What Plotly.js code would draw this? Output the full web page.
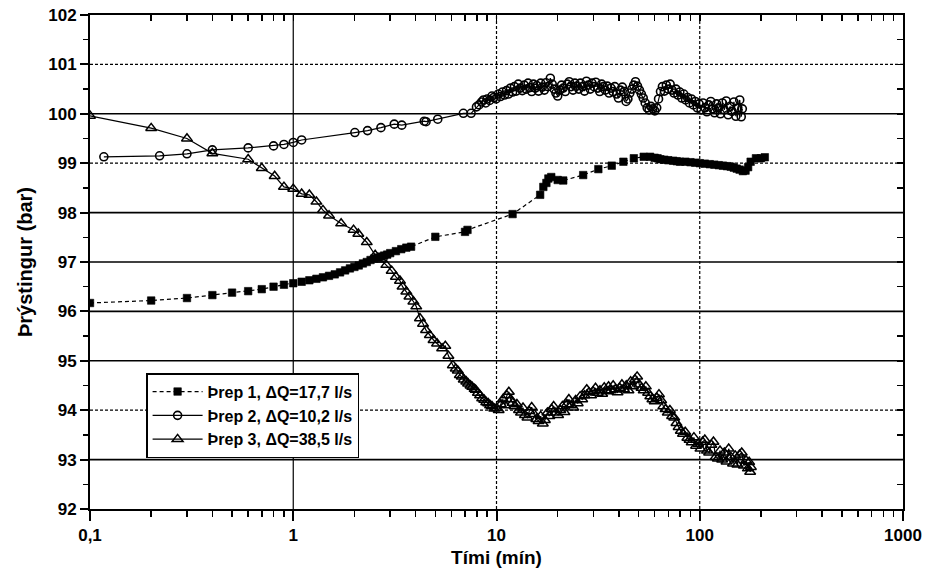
<!DOCTYPE html>
<html>
<head>
<meta charset="utf-8">
<script src="https://cdn.plot.ly/plotly-3.0.1.min.js"></script>
<style>html,body{margin:0;padding:0;background:#fff;}#chart{width:926px;height:576px;}</style>
</head>
<body>
<div id="chart"></div>
<script>
// ---- Data ----
const seriesNames = ["Þrep 1, ΔQ=17,7 l/s", "Þrep 2, ΔQ=10,2 l/s", "Þrep 3, ΔQ=38,5 l/s"];

const t1 = [0.1, 0.2, 0.3, 0.4, 0.5, 0.6, 0.7, 0.8, 0.9, 1.0, 1.1, 1.2, 1.3, 1.4, 1.5, 1.6, 1.7, 1.8, 1.9, 2.0,
  2.1, 2.2, 2.3, 2.4, 2.5, 2.6, 2.7, 2.8, 2.9, 3.0, 3.2, 3.4, 3.6, 3.8, 5.0, 7.0, 7.2, 12.0, 16.4, 17.0,
  17.6, 18.0, 18.6, 20.0, 21.3, 26.7, 31.7, 36.9, 42.1, 47.4, 53, 57, 60, 62, 64, 67, 70, 74, 77, 80,
  85, 90, 95, 100, 106, 112, 118, 124, 130, 136, 142, 147, 152, 157, 163, 168, 173, 178, 189, 200, 209];
const p1 = [96.17, 96.22, 96.27, 96.33, 96.38, 96.41, 96.45, 96.50, 96.54, 96.57, 96.60, 96.63, 96.66, 96.69, 96.72, 96.75, 96.79, 96.83, 96.87, 96.90,
  96.93, 96.97, 97.00, 97.04, 97.07, 97.09, 97.11, 97.13, 97.15, 97.18, 97.22, 97.26, 97.29, 97.31, 97.51, 97.61, 97.65, 97.97, 98.36, 98.52,
  98.60, 98.69, 98.72, 98.66, 98.65, 98.76, 98.88, 98.95, 99.03, 99.10, 99.13, 99.13, 99.11, 99.10, 99.08, 99.07, 99.06, 99.05, 99.04, 99.03,
  99.03, 99.02, 99.01, 99.00, 98.99, 98.98, 98.97, 98.96, 98.95, 98.94, 98.93, 98.91, 98.89, 98.87, 98.84, 98.85, 98.92, 99.03, 99.10, 99.10, 99.12];

const t2 = [0.117, 0.22, 0.30, 0.40, 0.60, 0.80, 0.90, 1.0, 1.1, 2.01, 2.32, 2.70, 3.14, 3.42, 4.41, 4.5, 5.14, 6.87, 7.5,
  7.97, 8.2, 8.45, 8.63, 8.85, 9.0, 9.25, 9.5, 9.7, 9.95, 10.2, 10.45, 10.7, 10.95, 11.2, 11.45, 11.7, 12.0, 12.25, 12.5,
  12.8, 13.1, 13.4, 13.7, 14.0, 14.3, 14.6, 14.9, 15.2, 15.5, 15.8, 16.1, 16.5, 16.8, 17.2, 17.5, 17.9, 18.4, 18.8, 19.2,
  19.6, 20.0, 20.5, 20.9, 21.3, 21.8, 22.3, 22.8, 23.3, 23.8, 24.3, 24.8, 25.4, 25.9, 26.5, 27.1, 27.7, 28.3, 28.9, 29.5,
  30.2, 30.8, 31.5, 32.2, 32.9, 33.6, 34.3, 35.1, 35.8, 36.6, 37.4, 38.2, 39.0, 39.8, 40.7, 41.6, 42.5, 43.4, 44.3, 45.3,
  46.3, 47.3, 48.3, 49.4, 50.5, 51.6, 52.7, 53.9, 55.1, 56.3, 57.5, 58.8, 60.1, 61.4, 62.7, 64.1, 65.5, 67.0, 68.5, 70.0,
  71.5, 73.1, 74.7, 76.4, 78.1, 79.8, 81.6, 83.4, 85.2, 87.1, 89.0, 91.0, 93.0, 95.1, 97.2, 99.3, 101.5, 103.8, 106.1, 108.4,
  110.8, 113.3, 115.8, 118.3, 121.0, 123.6, 126.4, 129.2, 132.0, 135.0, 138.0, 141.0, 144.1, 147.3, 150.6, 153.9, 157.3, 160.0, 162.0];
const p2 = [99.13, 99.15, 99.19, 99.27, 99.31, 99.35, 99.38, 99.42, 99.47, 99.62, 99.66, 99.72, 99.79, 99.77, 99.85, 99.84, 99.89, 100.01, 100.01,
  100.14, 100.18, 100.24, 100.28, 100.22, 100.30, 100.27, 100.36, 100.33, 100.30, 100.40, 100.35, 100.44, 100.38, 100.47, 100.40, 100.52, 100.44, 100.55, 100.46,
  100.60, 100.52, 100.47, 100.58, 100.50, 100.62, 100.53, 100.45, 100.60, 100.52, 100.57, 100.46, 100.62, 100.54, 100.48, 100.63, 100.55, 100.72, 100.60, 100.50,
  100.42, 100.36, 100.48, 100.58, 100.52, 100.45, 100.60, 100.65, 100.55, 100.48, 100.62, 100.56, 100.50, 100.62, 100.55, 100.46, 100.66, 100.58, 100.50, 100.62,
  100.55, 100.64, 100.52, 100.45, 100.60, 100.55, 100.48, 100.56, 100.42, 100.52, 100.45, 100.55, 100.40, 100.32, 100.48, 100.54, 100.45, 100.25, 100.30, 100.42,
  100.50, 100.58, 100.65, 100.56, 100.48, 100.40, 100.32, 100.22, 100.12, 100.08, 100.15, 100.10, 100.06, 100.12, 100.30, 100.45, 100.55, 100.46, 100.58, 100.50,
  100.60, 100.48, 100.42, 100.50, 100.38, 100.44, 100.32, 100.40, 100.28, 100.33, 100.22, 100.30, 100.18, 100.25, 100.12, 100.20, 100.08, 100.22, 100.12, 100.04,
  100.18, 100.25, 100.10, 100.02, 100.20, 100.12, 100.00, 100.22, 100.08, 100.26, 99.98, 100.15, 100.05, 100.24, 99.95, 100.12, 100.28, 99.94, 100.10];

const t3 = [0.1, 0.2, 0.3, 0.4, 0.6, 0.7, 0.81, 0.9, 1.0, 1.1, 1.2, 1.3, 1.4, 1.5, 1.72, 1.98, 2.09, 2.3, 2.53, 2.7,
  2.87, 3.05, 3.2, 3.35, 3.45, 3.6, 3.73, 3.9, 4.03, 4.2, 4.35, 4.5, 4.7, 4.9, 5.1, 5.4, 5.6, 5.8,
  6.1, 6.3, 6.45, 6.6, 6.75, 6.9, 7.1, 7.25, 7.45, 7.6, 7.8, 7.9, 8.1, 8.3, 8.5, 8.7, 8.9, 9.1, 9.3, 9.5,
  9.75, 10.0, 10.25, 10.5, 10.75, 11.0, 11.25, 11.5, 11.75, 12.0, 12.3, 12.6, 12.9, 13.2, 13.5, 13.8, 14.2, 14.5, 14.9, 15.3,
  15.7, 16.1, 16.5, 16.9, 17.3, 17.8, 18.2, 18.7, 19.1, 19.6, 20.1, 20.6, 21.1, 21.6, 22.2, 22.7, 23.3, 23.9, 24.5, 25.1,
  25.8, 26.4, 27.1, 27.8, 28.5, 29.2, 29.9, 30.7, 31.5, 32.3, 33.1, 33.9, 34.8, 35.6, 36.5, 37.5, 38.4, 39.4, 40.4, 41.4,
  42.4, 43.5, 44.6, 45.7, 46.9, 48.0, 49.2, 50.4, 51.7, 53.0, 54.3, 55.7, 57.1, 58.5, 60.0, 61.5, 63.0, 64.6, 66.2, 67.9,
  69.6, 71.3, 73.1, 74.9, 76.8, 78.7, 80.7, 82.7, 84.8, 86.9, 89.1, 91.3, 93.6, 95.9, 98.3, 100.8, 103.3, 105.9, 108.5, 111.2,
  114.0, 116.8, 119.7, 122.7, 125.8, 128.9, 132.1, 135.4, 138.8, 142.3, 145.8, 149.5, 153.2, 157.0, 160.9, 164.9, 169.0, 172.5, 175.0, 177.0,
  178.5];
const p3 = [99.96, 99.71, 99.50, 99.20, 99.08, 98.90, 98.74, 98.52, 98.48, 98.38, 98.36, 98.22, 98.05, 97.94, 97.78, 97.65, 97.57, 97.40, 97.14, 97.05,
  96.94, 96.82, 96.70, 96.62, 96.50, 96.40, 96.30, 96.20, 96.10, 95.86, 95.75, 95.62, 95.52, 95.42, 95.35, 95.25, 95.30, 95.10,
  94.91, 94.84, 94.80, 94.71, 94.68, 94.62, 94.58, 94.54, 94.50, 94.47, 94.43, 94.41, 94.35, 94.30, 94.24, 94.21, 94.16, 94.14, 94.10, 94.08,
  94.03, 94.04, 94.00, 94.12, 94.22, 94.10, 94.30, 94.37, 94.22, 94.15, 94.08, 94.12, 94.00, 93.95, 94.05, 93.90, 93.85, 93.98, 94.06, 93.92,
  93.82, 93.78, 93.88, 93.73, 93.80, 93.95, 93.88, 94.02, 94.08, 93.95, 93.90, 94.00, 94.08, 93.96, 94.12, 94.22, 94.10, 94.05, 94.20, 94.14,
  94.28, 94.22, 94.30, 94.42, 94.36, 94.30, 94.38, 94.45, 94.35, 94.40, 94.33, 94.46, 94.38, 94.48, 94.40, 94.50, 94.42, 94.36, 94.45, 94.52,
  94.42, 94.50, 94.40, 94.58, 94.48, 94.62, 94.68, 94.52, 94.45, 94.40, 94.48, 94.35, 94.28, 94.22, 94.18, 94.25, 94.32, 94.20, 94.08, 94.02,
  93.95, 94.00, 93.88, 93.85, 93.74, 93.66, 93.58, 93.52, 93.56, 93.44, 93.40, 93.35, 93.45, 93.28, 93.32, 93.22, 93.36, 93.40, 93.18, 93.14,
  93.30, 93.36, 93.05, 93.02, 93.18, 93.00, 93.14, 92.96, 93.22, 93.05, 92.92, 93.08, 92.90, 93.10, 93.14, 92.88, 92.98, 92.82, 92.95, 92.75,
  92.85];

// Axis ticks
const xTickVals = [0.1, 1, 10, 100, 1000];
const xTickText = ["0,1", "1", "10", "100", "1000"];
const yTickVals = [92, 93, 94, 95, 96, 97, 98, 99, 100, 101, 102];
const ySolidGrid = [93, 95, 96, 97, 98, 100];
const yDotGrid = [94, 99, 101];
const xSolidGrid = [1];
const xDotGrid = [10, 100];

// minor x tick positions (2..9 in each decade)
const xMinor = [];
[0.1, 1, 10, 100].forEach(d => { for (let k = 2; k <= 9; k++) xMinor.push(+(k * d).toPrecision(3)); });

const FONT = "Liberation Sans, Arial, Helvetica, sans-serif";
const BOLD = { family: FONT, weight: "bold", color: "#000" };

const traces = [
  { x: t1, y: p1, name: seriesNames[0], type: "scatter", mode: "lines+markers",
    line: { color: "#000", width: 1.2, dash: "4px,3px" },
    marker: { symbol: "square", size: 7.5, color: "#000", line: { color: "#000", width: 0.6 } } },
  { x: t2, y: p2, name: seriesNames[1], type: "scatter", mode: "lines+markers",
    line: { color: "#000", width: 1.2 },
    marker: { symbol: "circle-open", size: 8, color: "#000", line: { color: "#000", width: 1.6 } } },
  { x: t3, y: p3, name: seriesNames[2], type: "scatter", mode: "lines+markers",
    line: { color: "#000", width: 1.2 },
    marker: { symbol: "triangle-up-open", size: 9.5, color: "#000", line: { color: "#000", width: 1.5 } } },
  { x: [], y: [], xaxis: "x2", yaxis: "y2", showlegend: false, hoverinfo: "skip", type: "scatter" }
];

const shapes = [];
ySolidGrid.forEach(v => shapes.push({ type: "line", xref: "paper", yref: "y", x0: 0, x1: 1, y0: v, y1: v, layer: "below", line: { color: "#000", width: 1.6 } }));
yDotGrid.forEach(v => shapes.push({ type: "line", xref: "paper", yref: "y", x0: 0, x1: 1, y0: v, y1: v, layer: "below", line: { color: "#000", width: 1.2, dash: "3px,2px" } }));
xSolidGrid.forEach(v => shapes.push({ type: "line", xref: "x", yref: "paper", x0: v, x1: v, y0: 0, y1: 1, layer: "below", line: { color: "#000", width: 1.2 } }));
xDotGrid.forEach(v => shapes.push({ type: "line", xref: "x", yref: "paper", x0: v, x1: v, y0: 0, y1: 1, layer: "below", line: { color: "#000", width: 1.2, dash: "3px,2px" } }));

const layout = {
  width: 926, height: 576,
  margin: { l: 90, r: 23, t: 15, b: 67 },
  paper_bgcolor: "#fff", plot_bgcolor: "#fff",
  font: { family: FONT, color: "#000", size: 16 },
  showlegend: true,
  legend: { x: 0.069, y: 0.275, xanchor: "left", yanchor: "top", bgcolor: "#fff",
    bordercolor: "#000", borderwidth: 1.5, font: Object.assign({ size: 16 }, BOLD),
    tracegroupgap: 0, itemwidth: 50 },
  xaxis: { type: "log", range: [-1, 3], tickmode: "array", tickvals: xTickVals, ticktext: xTickText,
    ticks: "outside", ticklen: 10, tickwidth: 2, tickcolor: "#000",
    showline: true, linecolor: "#000", linewidth: 2, showgrid: false, zeroline: false,
    tickfont: Object.assign({ size: 17 }, BOLD),
    minor: { tickmode: "array", tickvals: xMinor, ticks: "outside", ticklen: 6, tickwidth: 1.5, tickcolor: "#000", showgrid: false },
    title: { text: "Tími (mín)", font: Object.assign({ size: 19 }, BOLD), standoff: 6 } },
  xaxis2: { type: "log", range: [-1, 3], overlaying: "x", side: "top", anchor: "y",
    tickmode: "array", tickvals: xTickVals, showticklabels: false,
    ticks: "inside", ticklen: 6, tickwidth: 1.5, tickcolor: "#000",
    showline: true, linecolor: "#000", linewidth: 2, showgrid: false, zeroline: false,
    minor: { tickmode: "array", tickvals: xMinor, ticks: "inside", ticklen: 6, tickwidth: 1.5, tickcolor: "#000", showgrid: false } },
  yaxis: { range: [92, 102], tickmode: "array", tickvals: yTickVals,
    ticks: "outside", ticklen: 8, tickwidth: 2, tickcolor: "#000",
    showline: true, linecolor: "#000", linewidth: 2, showgrid: false, zeroline: false,
    tickfont: Object.assign({ size: 17 }, BOLD),
    minor: { dtick: 0.5, ticks: "outside", ticklen: 5, tickwidth: 1.5, tickcolor: "#000", showgrid: false },
    title: { text: "Þrýstingur (bar)", font: Object.assign({ size: 20 }, BOLD), standoff: 10 } },
  yaxis2: { range: [92, 102], overlaying: "y", side: "right", anchor: "x",
    tickmode: "array", tickvals: yTickVals, showticklabels: false,
    ticks: "inside", ticklen: 6, tickwidth: 1.5, tickcolor: "#000",
    showline: true, linecolor: "#000", linewidth: 2, showgrid: false, zeroline: false,
    minor: { dtick: 0.5, ticks: "inside", ticklen: 6, tickwidth: 1.5, tickcolor: "#000", showgrid: false } },
  shapes: shapes
};

Plotly.newPlot("chart", traces, layout, { displayModeBar: false, staticPlot: true });
</script>
</body>
</html>
